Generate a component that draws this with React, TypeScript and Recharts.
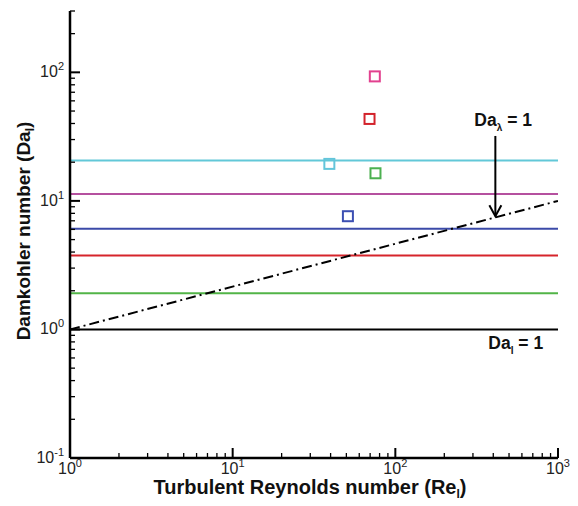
import { ScatterChart, Scatter, XAxis, YAxis, ReferenceLine, ReferenceDot, Cell, Label } from "recharts";

// horizontal Da_l levels (top to bottom)
const levelValues = [20.6, 11.3, 6.06, 3.76, 1.91, 1.0];
const levelColors = ["#62c8d8", "#b5509f", "#3b4aa8", "#d6242b", "#52b447", "#000000"];

// measured points (Re_l, Da_l)
const squareRe = [74.8, 69.4, 39.3, 75.5, 51.1];
const squareDa = [93, 43.4, 19.4, 16.4, 7.6];
const squareColors = ["#e2418f", "#d3222b", "#63c5da", "#4cb050", "#3c4fb2"];

// Da_lambda = 1 line end points
const lambdaRe = [1, 1000];
const lambdaDa = [1, 10];

// arrow pointing to the Da_lambda line
const arrowRe = 412;
const arrowDa = [32, 7.6];

// annotation anchors
const annoRe = [306, 373];
const annoDa = [38.5, 0.71];

const xMajor = [1, 10, 100, 1000];
const yMajor = [0.1, 1, 10, 100];

const FONT = '"Liberation Sans", Arial, sans-serif';

const buildTicks = (majors: number[], max: number) => {
  const out: number[] = [];
  majors.forEach((m) => {
    for (let k = 1; k <= 9; k++) {
      const v = +(m * k).toPrecision(6);
      if (v <= max) out.push(v);
    }
  });
  return out;
};
const xTicks = buildTicks(xMajor, 1000);
const yTicks = buildTicks(yMajor, 300);

const isMajor = (v: number) => Math.abs(Math.log10(v) - Math.round(Math.log10(v))) < 1e-6;

const XTick = (props: any) => {
  const { x, y, payload } = props;
  const v = payload.value;
  const major = isMajor(v);
  return (
    <g>
      <line x1={x} x2={x} y1={y} y2={y - (major ? 10 : 5)} stroke="#000" strokeWidth={major ? 2 : 1.3} />
      {major && (
        <text x={x} y={y + 16} textAnchor="middle" fontFamily={FONT} fontSize={16} fill="#222">
          10<tspan dy={-7} fontSize={11}>{Math.round(Math.log10(v))}</tspan>
        </text>
      )}
    </g>
  );
};

const YTick = (props: any) => {
  const { x, y, payload } = props;
  const v = payload.value;
  const major = isMajor(v);
  return (
    <g>
      <line x1={x} x2={x + (major ? 10 : 5)} y1={y} y2={y} stroke="#000" strokeWidth={major ? 2 : 1.3} />
      {major && (
        <text x={x - 6} y={y + 5} textAnchor="end" fontFamily={FONT} fontSize={16} fill="#222">
          10<tspan dy={-7} fontSize={11}>{Math.round(Math.log10(v))}</tspan>
        </text>
      )}
    </g>
  );
};

const SquareShape = (p: any) => (
  <rect x={p.cx - 5} y={p.cy - 5} width={10} height={10} fill="none" stroke={p.fill} strokeWidth={2} />
);

const ArrowShape = (p: any) => {
  const { x1, y1, x2, y2 } = p;
  return (
    <g>
      <line x1={x1} y1={y1} x2={x2} y2={y2} stroke="#000" strokeWidth={2} />
      <polyline points={`${x2 - 6},${y2 - 11} ${x2},${y2} ${x2 + 6},${y2 - 11}`} fill="none" stroke="#000" strokeWidth={2} />
    </g>
  );
};

export default function App() {
  const squares = squareRe.map((x, i) => ({ x, y: squareDa[i] }));
  const lambdaLine = lambdaRe.map((x, i) => ({ x, y: lambdaDa[i] }));

  return (
    <div style={{ position: "absolute", left: 0, top: 0, width: 578, height: 506, background: "#fff" }}>
      <ScatterChart width={578} height={506} margin={{ top: 11, right: 20, bottom: 0, left: 0 }}>
        <XAxis
          type="number"
          dataKey="x"
          scale="log"
          domain={[1, 1000]}
          ticks={xTicks}
          interval={0}
          allowDataOverflow
          tickLine={false}
          tickSize={0}
          tickMargin={0}
          tick={<XTick />}
          axisLine={{ stroke: "#000", strokeWidth: 2.5 }}
          height={48}
        >
          <Label
            content={(p: any) => {
              const vb = p.viewBox;
              return (
                <text x={vb.x + vb.width / 2 - 4} y={vb.y + 36} textAnchor="middle" fontFamily={FONT} fontSize={20} fontWeight="bold" fill="#111">
                  Turbulent Reynolds number (Re<tspan dy={4} fontSize={12}>l</tspan><tspan dy={-4}>)</tspan>
                </text>
              );
            }}
          />
        </XAxis>
        <YAxis
          type="number"
          dataKey="y"
          scale="log"
          domain={[0.1, 300]}
          ticks={yTicks}
          interval={0}
          allowDataOverflow
          tickLine={false}
          tickSize={0}
          tickMargin={0}
          tick={<YTick />}
          axisLine={{ stroke: "#000", strokeWidth: 2.5 }}
          width={70}
        >
          <Label
            content={() => {
              const cx = 30;
              const cy = 231;
              return (
                <text x={cx} y={cy} transform={`rotate(-90 ${cx} ${cy})`} textAnchor="middle" fontFamily={FONT} fontSize={19} fontWeight="bold" fill="#111">
                  Damkohler number (Da<tspan dy={4} fontSize={12}>l</tspan><tspan dy={-4}>)</tspan>
                </text>
              );
            }}
          />
        </YAxis>

        {levelValues.map((v, i) => (
          <ReferenceLine key={i} y={v} stroke={levelColors[i]} strokeWidth={2} ifOverflow="visible" />
        ))}

        <Scatter
          data={lambdaLine}
          line={{ stroke: "#000", strokeWidth: 2, strokeDasharray: "10 4 2 4" }}
          shape={() => null}
          isAnimationActive={false}
        />

        <Scatter data={squares} shape={SquareShape} isAnimationActive={false}>
          {squares.map((_, i) => (
            <Cell key={i} fill={squareColors[i]} />
          ))}
        </Scatter>

        <ReferenceLine
          segment={[{ x: arrowRe, y: arrowDa[0] }, { x: arrowRe, y: arrowDa[1] }]}
          shape={ArrowShape}
          ifOverflow="visible"
        />

        <ReferenceDot
          x={annoRe[0]}
          y={annoDa[0]}
          r={0}
          ifOverflow="visible"
          shape={(p: any) => (
            <text x={p.cx} y={p.cy} fontFamily={FONT} fontSize={17.5} fontWeight="bold" fill="#111">
              Da<tspan dy={5} fontSize={10}>λ</tspan><tspan dy={-5}> = 1</tspan>
            </text>
          )}
        />
        <ReferenceDot
          x={annoRe[1]}
          y={annoDa[1]}
          r={0}
          ifOverflow="visible"
          shape={(p: any) => (
            <text x={p.cx} y={p.cy} fontFamily={FONT} fontSize={17.5} fontWeight="bold" fill="#111">
              Da<tspan dy={5} fontSize={10}>l</tspan><tspan dy={-5}> = 1</tspan>
            </text>
          )}
        />
      </ScatterChart>
    </div>
  );
}
